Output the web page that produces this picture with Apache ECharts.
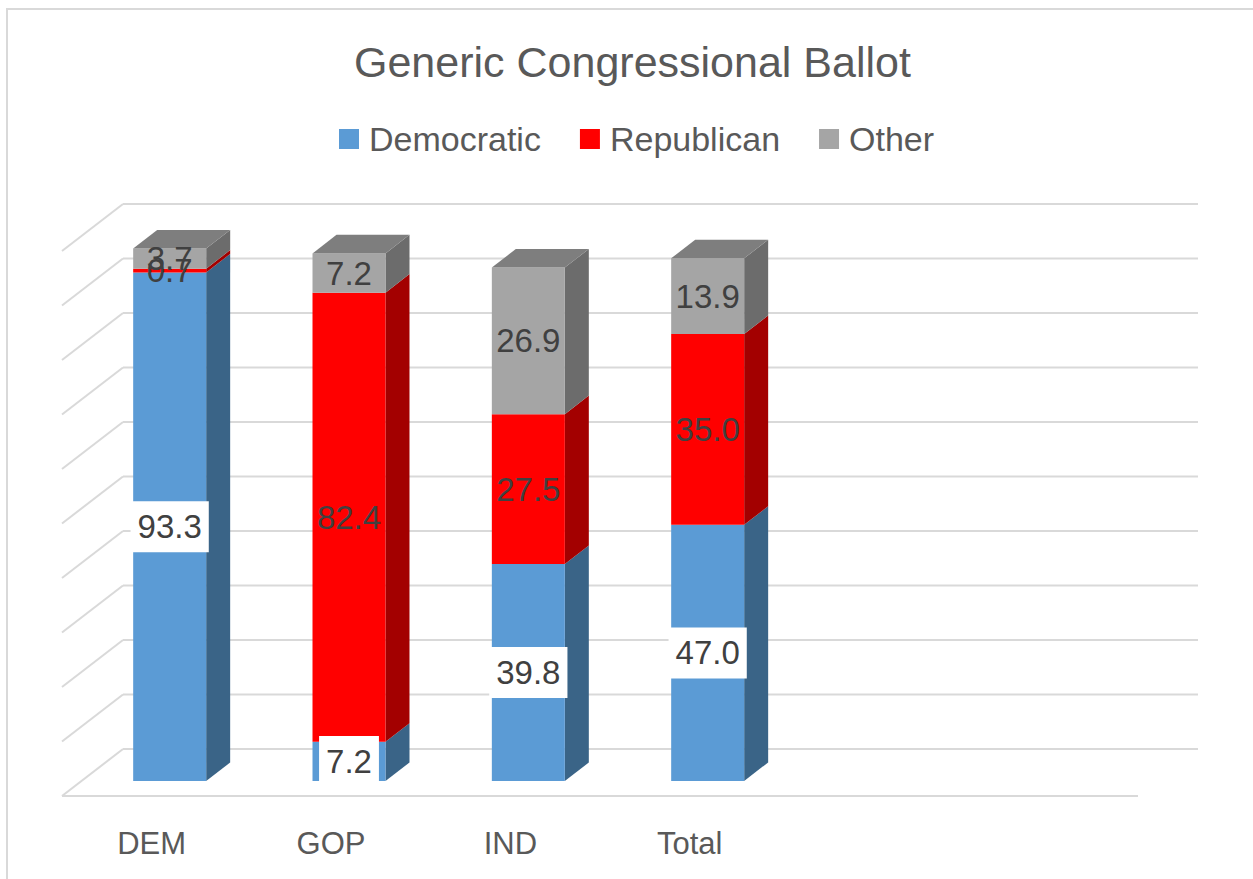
<!DOCTYPE html>
<html><head><meta charset="utf-8">
<script src="https://cdn.jsdelivr.net/npm/echarts@6/dist/echarts.min.js"></script>
<style>html,body{margin:0;padding:0;background:#fff}#c{width:1253px;height:879px}</style>
</head><body><div id="c"></div>
<script>
// ---- data ----
const categories = ['DEM', 'GOP', 'IND', 'Total', '', ''];
const democratic = [93.3, 7.2, 39.8, 47.0];
const republican = [0.7, 82.4, 27.5, 35.0];
const other = [3.7, 7.2, 26.9, 13.9];
const gridValues = [0, 10, 20, 30, 40, 50, 60, 70, 80, 90, 100];
const seriesNames = ['Democratic', 'Republican', 'Other'];

// ---- style constants ----
const FONT = '"Liberation Sans", Arial, sans-serif';
const WALL_DX = 61, WALL_DY = -47;      // depth of floor / back wall
const FRONT_DX = 18, FRONT_DY = -15;    // bar front face offset from front plane
const BAR_DX = 24, BAR_DY = -18.6;      // bar depth
const BAR_FRAC = 0.407;
const palette = [
  {front: '#5B9BD5', side: '#3A6487', top: '#4A80B0'},
  {front: '#FF0000', side: '#A30000', top: '#C00000'},
  {front: '#A5A5A5', side: '#6C6C6C', top: '#7E7E7E'}
];
const stacks = [democratic, republican, other];

function buildBarData(k) {
  return stacks[k].map((v, i) => {
    let base = 0;
    for (let j = 0; j < k; j++) base += stacks[j][i];
    return [i, v, base];
  });
}

function barRenderer(k) {
  const col = palette[k];
  const isTop = k === stacks.length - 1;
  return function (params, api) {
    const cat = api.value(0), val = api.value(1), base = api.value(2);
    const b = api.coord([cat, base]);
    const t = api.coord([cat, base + val]);
    const bw = api.size([1, 0])[0] * BAR_FRAC;
    const cx = b[0] + FRONT_DX;
    const yb = b[1] + FRONT_DY, yt = t[1] + FRONT_DY;
    const x0 = cx - bw / 2, x1 = cx + bw / 2;
    const children = [
      {type: 'polygon', shape: {points: [[x1, yb], [x1 + BAR_DX, yb + BAR_DY], [x1 + BAR_DX, yt + BAR_DY], [x1, yt]]},
        style: {fill: col.side}},
      {type: 'rect', shape: {x: x0, y: yt, width: bw, height: yb - yt}, style: {fill: col.front}}
    ];
    if (isTop) {
      children.push({type: 'polygon', shape: {points: [[x0, yt], [x1, yt], [x1 + BAR_DX, yt + BAR_DY], [x0 + BAR_DX, yt + BAR_DY]]},
        style: {fill: col.top}});
    }
    return {type: 'group', children};
  };
}

const labelData = [];
stacks.forEach((arr, k) => {
  arr.forEach((v, i) => {
    let base = 0;
    for (let j = 0; j < k; j++) base += stacks[j][i];
    labelData.push([i, base + v / 2, v, k === 0 ? 1 : 0]);
  });
});

const chart = echarts.init(document.getElementById('c'), null, {renderer: 'svg'});
const option = {
  backgroundColor: '#fff',
  animation: false,
  title: {
    text: 'Generic Congressional Ballot',
    left: 349, top: 32,
    textStyle: {fontFamily: FONT, fontSize: 43, fontWeight: 'normal', color: '#595959', lineHeight: 50}
  },
  legend: {
    data: seriesNames,
    left: 334, top: 116,
    itemWidth: 20, itemHeight: 20, itemGap: 39,
    icon: 'rect',
    textStyle: {fontFamily: FONT, fontSize: 34, color: '#595959', lineHeight: 36, padding: [0, 0, 0, 5]}
  },
  graphic: [
    {type: 'rect', shape: {x: 7, y: 9, width: 1400, height: 1000}, style: {fill: 'none', stroke: '#D9D9D9', lineWidth: 2}, silent: true, z: -10}
  ],
  grid: {left: 62, right: 115, top: 251, bottom: 83},
  xAxis: {
    type: 'category', data: categories,
    axisLine: {show: false}, axisTick: {show: false}, splitLine: {show: false},
    axisLabel: {fontFamily: FONT, fontSize: 31, color: '#595959', margin: 31, lineHeight: 32, interval: 0}
  },
  yAxis: {
    type: 'value', min: 0, max: 100, interval: 10,
    axisLine: {show: false}, axisTick: {show: false}, axisLabel: {show: false}, splitLine: {show: false}
  },
  series: [
    {
      type: 'custom', name: 'walls', silent: true, z: 1,
      data: gridValues.map(v => [0, v]),
      encode: {x: 0, y: 1},
      renderItem: function (params, api) {
        const cs = params.coordSys;
        const y = api.coord([0, api.value(1)])[1];
        const ls = {stroke: '#D9D9D9', lineWidth: 2, fill: 'none'};
        const ch = [
          {type: 'line', shape: {x1: cs.x, y1: y, x2: cs.x + WALL_DX, y2: y + WALL_DY}, style: ls},
          {type: 'line', shape: {x1: cs.x + WALL_DX, y1: y + WALL_DY, x2: cs.x + cs.width + WALL_DX - 1, y2: y + WALL_DY}, style: ls}
        ];
        if (api.value(1) === 0) {
          ch.push({type: 'line', shape: {x1: cs.x, y1: y, x2: cs.x + cs.width, y2: y}, style: ls});
        }
        return {type: 'group', children: ch};
      }
    }
  ].concat(seriesNames.map((name, k) => ({
    type: 'custom', name: name, z: 2,
    itemStyle: {color: palette[k].front},
    data: buildBarData(k),
    encode: {x: 0, y: 1},
    renderItem: barRenderer(k)
  }))).concat([
    {
      type: 'custom', name: 'labels', z: 5, silent: true,
      data: labelData,
      encode: {x: 0, y: 1},
      renderItem: function (params, api) {
        const cat = api.value(0), mid = api.value(1), val = api.value(2), boxed = api.value(3) === 1;
        const p = api.coord([cat, mid]);
        const style = {
          text: val.toFixed(1), fill: '#404040', fontSize: 33, fontFamily: FONT,
          align: 'center', verticalAlign: 'middle'
        };
        if (boxed) { style.backgroundColor = '#FFFFFF'; style.padding = [10, 7, 8, 7]; }
        return {type: 'text', x: p[0] + FRONT_DX, y: p[1] + FRONT_DY, style: style};
      }
    }
  ])
};
chart.setOption(option);
</script>
</body></html>
